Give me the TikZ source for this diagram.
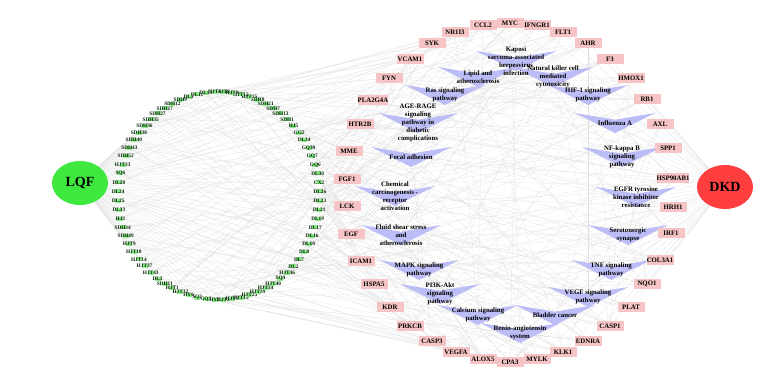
\documentclass[tikz,border=0pt]{standalone}
\usepackage{fontspec}
\setmainfont{Liberation Serif}
\usetikzlibrary{shapes.geometric}
\pgfdeclarelayer{edges}
\pgfdeclarelayer{vlayer}
\pgfsetlayers{edges,vlayer,main}
\definecolor{lqfgreen}{HTML}{3EE83E}
\definecolor{dkdred}{HTML}{FF3F3F}
\definecolor{tpink}{HTML}{F6C4C4}
\definecolor{pviolet}{HTML}{BCBCF6}
\definecolor{igreen}{HTML}{8FEA8F}
\definecolor{edgegray}{HTML}{E0E0E0}
\tikzset{
  hub/.style={ellipse, minimum width=56pt, minimum height=44pt, inner sep=0pt,
    font=\fontsize{14}{14}\selectfont\bfseries},
  target/.style={fill=tpink, minimum width=27pt, minimum height=10pt, inner sep=0pt,
    font=\fontsize{6.8}{7}\selectfont\bfseries},
  ingr/.style={fill=igreen, minimum width=6pt, minimum height=4pt, inner sep=0pt},
  ingrlabel/.style={font=\fontsize{5.3}{5.3}\selectfont\bfseries, inner sep=0pt, text=black!85!green},
  pathlabel/.style={align=center, font=\fontsize{6.8}{8.2}\selectfont\bfseries, inner sep=0pt},
  vshape/.style={fill=pviolet},
  edge/.style={draw=edgegray, line width=0.22pt},
}
\begin{document}
\begin{tikzpicture}[x=1pt,y=-1pt]
\useasboundingbox (0,0) rectangle (770,374);
\node[hub, fill=lqfgreen] (lqf) at (80,183) {LQF};
\node[hub, fill=dkdred] (dkd) at (725,187) {DKD};
% ingredient ring
\foreach \nm [count=\k from 0] in {DL26,CX2,DL30,GQ6,GQ7,GQ30,DL34,GG2,HJ5,SDH1,SDH13,SDH7,SDH21,SDH8,
  HJT15,HJT12,HJT8,HJT6,HJT4,DL15,DL11,DL5,SDH9,
  SDH12,SDH17,SDH27,SDH35,SDH36,SDH38,SDH40,SDH43,SDH52,HJT33,SQ6,DL20,DL24,DL25,DL33,HJ3,
  SDH34,SDH49,HJT9,HJT10,HJT14,HJT37,HJT43,DL3,SDH11,HJT1,HJT32,
  HY6,SQ2,GQ3,HY3,HJT2,HJT5,HJT19,HJT25,
  HJT39,HJT34,HJT40,SQ4,HJT46,DL2,DL7,DL8,DL10,DL16,DL17,DL19,DL21,DL23} {
  \pgfmathsetmacro\ang{2.5+5*\k}
  \node[ingr] (i\k) at ({219+101*cos(\ang)},{196-104*sin(\ang)}) {};
  \node[ingrlabel] at (i\k) {\nm};
}
% targets
\foreach \nm/\x/\y [count=\k] in {NR1I3/455/32, CCL2/483/25, MYC/510/23, IFNGR1/537/25, FLT1/563/32,
  AHR/588/43, F3/610/59, HMOX1/631/78, RB1/647/99, AXL/660/124, SPP1/668/148, HSP90AB1/673/178,
  HRH1/673/207, IRF1/671/233, COL3A1/660/260, NQO1/647/284, PLAT/631/307, CASP1/610/326,
  EDNRA/588/341, KLK1/563/352, MYLK/537/359, CPA3/510/362, ALOX5/483/359, VEGFA/456/352,
  CASP3/432/341, PRKCB/410/326, KDR/390/307, HSPA5/374/284, ICAM1/361/261, EGF/351/234,
  LCK/347/206, FGF1/347/179, MME/349/151, HTR2B/360/124, PLA2G4A/373/100, FYN/389/78,
  VCAM1/410/59, SYK/432/43} {
  \node[target] (t\k) at (\x,\y) {\nm};
}
% pathways
\foreach \x/\y/\txt [count=\k] in {
  516/61/{Kaposi\\sarcoma-associated\\herpesvirus\\infection},
  478/77/{Lipid and\\atherosclerosis},
  553/77/{Natural killer cell\\mediated\\cytotoxicity},
  445/95/{Ras signaling\\pathway},
  588/95/{HIF-1 signaling\\pathway},
  418/123/{AGE-RAGE\\signaling\\pathway in\\diabetic\\complications},
  615/123/{Influenza A},
  411/157/{Focal adhesion},
  622/157/{NF-kappa B\\signaling\\pathway},
  395/196/{Chemical\\carcinogenesis -\\receptor\\activation},
  636/197/{EGFR tyrosine\\kinase inhibitor\\resistance},
  401/235/{Fluid shear stress\\and\\atherosclerosis},
  628/235/{Serotonergic\\synapse},
  419/270/{MAPK signaling\\pathway},
  611/270/{TNF signaling\\pathway},
  440/294/{PI3K-Akt\\signaling\\pathway},
  588/297/{VEGF signaling\\pathway},
  478/315/{Calcium signaling\\pathway},
  555/315/{Bladder cancer},
  520/333/{Renin-angiotensin\\system}} {
  \begin{pgfonlayer}{vlayer}
  \fill[vshape] ({\x-40},{\y-10}) -- (\x,{\y-3.3}) -- ({\x+40},{\y-10}) -- (\x,{\y+10}) -- cycle;
  \end{pgfonlayer}
  \node[pathlabel] (p\k) at (\x,\y) {\txt};
}
% connectors
\begin{pgfonlayer}{edges}
\foreach \k in {0,...,71} {
  \draw[edge] (lqf) -- (i\k);
  \pgfmathtruncatemacro\ta{mod(\k*7+3,38)+1}
  \pgfmathtruncatemacro\tb{mod(\k*11+5,38)+1}
  \pgfmathtruncatemacro\tc{mod(\k*13+17,38)+1}
  \draw[edge] (i\k) -- (t\ta) (i\k) -- (t\tb) (i\k) -- (t\tc);
}
\foreach \k in {1,...,38} { \draw[edge] (t\k) -- (dkd); }
\foreach \j in {1,...,20} {
  \foreach \m in {0,...,4} {
    \pgfmathtruncatemacro\ta{mod(\j*5+\m*7+\j*\m,38)+1}
    \draw[edge] (t\ta) -- (p\j.center);
  }
}
\end{pgfonlayer}
\end{tikzpicture}
\end{document}
